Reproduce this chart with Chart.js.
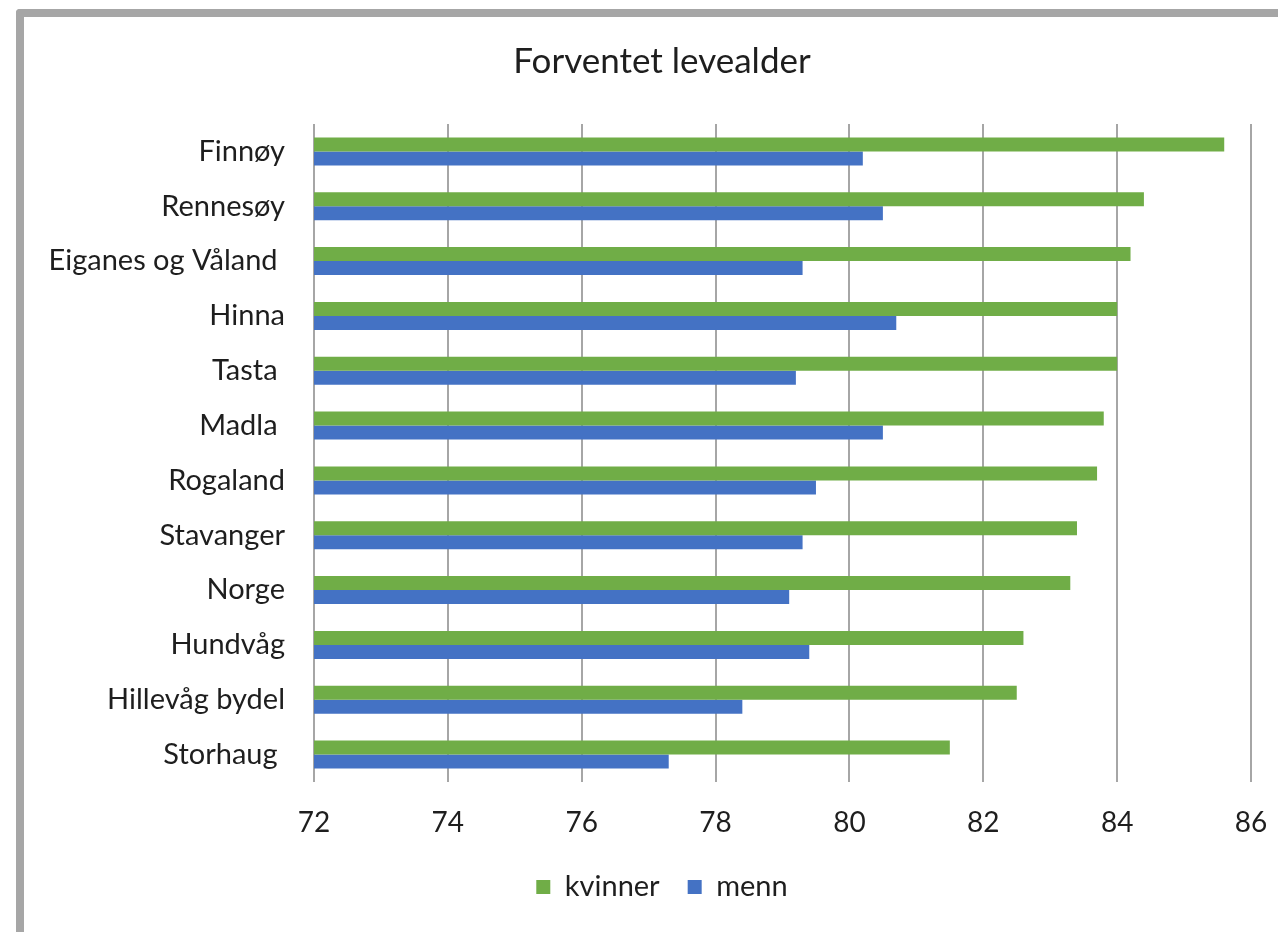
<!DOCTYPE html>
<html>
<head>
<meta charset="utf-8">
<script src="https://cdn.jsdelivr.net/npm/chart.js@4.4.1/dist/chart.umd.min.js"></script>
<style>
  html, body { margin: 0; padding: 0; background: #fff; }
  body { width: 1278px; height: 932px; position: relative; overflow: hidden; }
  .frame {
    position: absolute; left: 16px; top: 9px; width: 1300px; height: 960px;
    border-left: 8px solid #a6a6a6; border-top: 8px solid #a6a6a6;
    border-top-left-radius: 4px;
  }
  #chart { position: absolute; left: 0; top: 0; }
</style>
</head>
<body>
<div class="frame"></div>
<canvas id="chart" width="1278" height="932"></canvas>
<script>
// områder (trailing spaces as in the original labels)
const categories = ['Finnøy', 'Rennesøy', 'Eiganes og Våland ', 'Hinna', 'Tasta ', 'Madla ',
  'Rogaland', 'Stavanger', 'Norge', 'Hundvåg', 'Hillevåg bydel', 'Storhaug '];
const kvinner = [85.6, 84.4, 84.2, 84.0, 84.0, 83.8, 83.7, 83.4, 83.3, 82.6, 82.5, 81.5];
const menn    = [80.2, 80.5, 79.3, 80.7, 79.2, 80.5, 79.5, 79.3, 79.1, 79.4, 78.4, 77.3];
const xTicks = [72, 74, 76, 78, 80, 82, 84, 86];

const FONT = 'Lato, "Open Sans", sans-serif';
const TEXT = '#1e1e1e';

// y labels are wider than the y scale box, don't let them get clipped
const unclipLabels = {
  id: 'unclipLabels',
  afterLayout(chart) { chart.scales.y.left = 0; }
};

new Chart(document.getElementById('chart'), {
  type: 'bar',
  data: {
    labels: categories,
    datasets: [
      { label: 'kvinner', data: kvinner, backgroundColor: '#70ad47',
        categoryPercentage: 0.51, barPercentage: 1.0 },
      { label: 'menn', data: menn, backgroundColor: '#4472c4',
        categoryPercentage: 0.51, barPercentage: 1.0 }
    ]
  },
  plugins: [unclipLabels],
  options: {
    indexAxis: 'y',
    responsive: false,
    animation: false,
    layout: { padding: { left: 73, right: 27, top: 0, bottom: 20.5 } },
    plugins: {
      title: {
        display: true,
        text: 'Forventet levealder',
        color: TEXT,
        font: { family: FONT, size: 35, weight: 'normal' },
        padding: { top: 41, bottom: 41 }
      },
      legend: {
        position: 'bottom',
        labels: {
          color: TEXT,
          font: { family: FONT, size: 29 },
          boxWidth: 14, boxHeight: 14,
          padding: 28
        }
      },
      tooltip: { enabled: false }
    },
    scales: {
      x: {
        min: xTicks[0], max: xTicks[xTicks.length - 1],
        afterBuildTicks: s => { s.ticks = xTicks.map(v => ({ value: v })); },
        afterFit: s => { s.paddingLeft = 0; s.paddingRight = 0; s.height = 62.5; },
        grid: { color: '#a6a6a6', lineWidth: 2, drawTicks: false },
        border: { display: false },
        ticks: { color: TEXT, font: { family: FONT, size: 28 }, padding: 24 }
      },
      y: {
        grid: { display: false, drawTicks: false },
        border: { display: false },
        ticks: { color: TEXT, font: { family: FONT, size: 29 }, padding: 29 },
        afterFit: s => { s.width = 314 - 73; }
      }
    }
  }
});
</script>
</body>
</html>
